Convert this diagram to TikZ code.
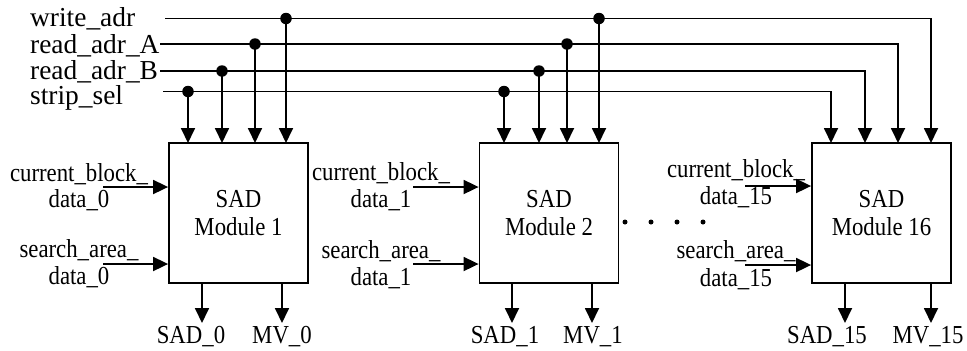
\documentclass[tikz,border=0pt]{standalone}
\usepackage{fontspec}
\setmainfont{Liberation Serif}[FakeStretch=0.88]
\newfontfamily\busfont{Liberation Serif}
\usetikzlibrary{arrows.meta}
\tikzset{
  x=1bp, y=-1bp,
  wire/.style={line width=1.8bp},
  sig/.style={wire, -{Triangle[length=15bp,width=14bp]}},
  sadbox/.style={draw, line width=1.8bp, minimum width=139bp, minimum height=140bp,
    inner sep=0pt, align=center, font=\fontsize{26}{29}\selectfont},
  buslbl/.style={anchor=base west, inner sep=0pt, font=\busfont\fontsize{27.5}{30}\selectfont},
  lbl/.style={anchor=base, inner sep=0pt, font=\fontsize{26}{29}\selectfont},
  tap/.style={circle, fill, inner sep=0pt, minimum size=11.5bp},
  ellip/.style={circle, fill, inner sep=0pt, minimum size=5bp},
}
\begin{document}
\begin{tikzpicture}
\useasboundingbox (0,0) rectangle (967,350);

% bus names
\node[buslbl] (lw) at (30,26.5) {write\_adr};
\node[buslbl] (la) at (30,53) {read\_adr\_A};
\node[buslbl] (lb) at (30,79.5) {read\_adr\_B};
\node[buslbl] (ls) at (30,104.5) {strip\_sel};

% bus start points
\coordinate (ws) at (165,18.5);
\coordinate (as) at (160,44);
\coordinate (bs) at (160,71);
\coordinate (ss) at (163,91.5);

% SAD modules
\node[sadbox] (m1)  at (238.5,213) {SAD\\Module 1};
\node[sadbox] (m2)  at (549,213)   {SAD\\Module 2};
\node[sadbox] (m16) at (881.5,213) {SAD\\Module 16};

% control inputs on top of each module
\coordinate (m1s) at (188,143);  \coordinate (m1b) at (222,143);
\coordinate (m1a) at (255,143);  \coordinate (m1w) at (286,143);
\coordinate (m2s) at (504,143);  \coordinate (m2b) at (539,143);
\coordinate (m2a) at (567,143);  \coordinate (m2w) at (599,143);
\coordinate (m16s) at (831,143); \coordinate (m16b) at (865,143);
\coordinate (m16a) at (898,143); \coordinate (m16w) at (931,143);

% buses run across and drop into module 16
\draw[sig] (ws) -| (m16w);
\draw[sig] (as) -| (m16a);
\draw[sig] (bs) -| (m16b);
\draw[sig] (ss) -| (m16s);

% junctions feeding modules 1 and 2
\foreach \m in {1,2} {
  \node[tap] (j\m s) at (m\m s |- ss) {};
  \node[tap] (j\m b) at (m\m b |- bs) {};
  \node[tap] (j\m a) at (m\m a |- as) {};
  \node[tap] (j\m w) at (m\m w |- ws) {};
  \draw[sig] (j\m s.center) -- (m\m s);
  \draw[sig] (j\m b.center) -- (m\m b);
  \draw[sig] (j\m a.center) -- (m\m a);
  \draw[sig] (j\m w.center) -- (m\m w);
}

% data inputs
\coordinate (c1) at (103,187); \coordinate (s1) at (103,264);
\coordinate (c2) at (413,187); \coordinate (s2) at (413,264);
\coordinate (c16) at (745,186); \coordinate (s16) at (745,265);
\draw[sig] (c1) -- (c1 -| m1.west);
\draw[sig] (s1) -- (s1 -| m1.west);
\draw[sig] (c2) -- (c2 -| m2.west);
\draw[sig] (s2) -- (s2 -| m2.west);
\draw[sig] (c16) -- (c16 -| m16.west);
\draw[sig] (s16) -- (s16 -| m16.west);

\node[lbl] (cb1) at (79,181) {current\_block\_};
\node[lbl] (cd1) at (79,207) {data\_0};
\node[lbl] (sa1) at (79,257) {search\_area\_};
\node[lbl] (sd1) at (79,284) {data\_0};

\node[lbl] (cb2) at (381,180) {current\_block\_};
\node[lbl] (cd2) at (381,207) {data\_1};
\node[lbl] (sa2) at (381,258) {search\_area\_};
\node[lbl] (sd2) at (381,285) {data\_1};

\node[lbl] (cb16) at (736,177) {current\_block\_};
\node[lbl] (cd16) at (736,204) {data\_15};
\node[lbl] (sa16) at (736,258) {search\_area\_};
\node[lbl] (sd16) at (736,286) {data\_15};

% outputs
\coordinate (o1a) at (202,323);  \coordinate (o1b) at (282,323);
\coordinate (o2a) at (512,323);  \coordinate (o2b) at (592,323);
\coordinate (o16a) at (845,323); \coordinate (o16b) at (931,323);
\draw[sig] (m1.south -| o1a) -- (o1a);
\draw[sig] (m1.south -| o1b) -- (o1b);
\draw[sig] (m2.south -| o2a) -- (o2a);
\draw[sig] (m2.south -| o2b) -- (o2b);
\draw[sig] (m16.south -| o16a) -- (o16a);
\draw[sig] (m16.south -| o16b) -- (o16b);

\node[lbl] (r1a) at (191,343) {SAD\_0};
\node[lbl] (r1b) at (282,343) {MV\_0};
\node[lbl] (r2a) at (505,343) {SAD\_1};
\node[lbl] (r2b) at (593,343) {MV\_1};
\node[lbl] (r16a) at (827,343) {SAD\_15};
\node[lbl] (r16b) at (928,343) {MV\_15};

% ellipsis between module 2 and module 16
\foreach \i/\xx in {1/625,2/651,3/677,4/703}
  \node[ellip] (e\i) at (\xx,222) {};
\end{tikzpicture}
\end{document}
